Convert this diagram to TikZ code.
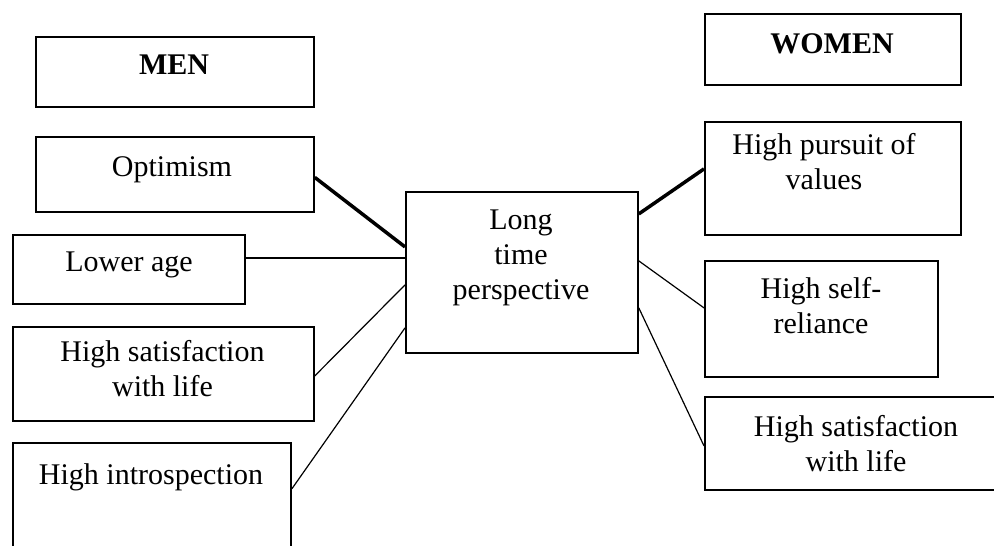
\documentclass[tikz,border=0pt]{standalone}
\usepackage{fontspec}
\setmainfont{Liberation Serif}

\begin{document}
\begin{tikzpicture}[x=1pt,y=-1pt,
  box/.style={draw,line width=1.8pt,inner sep=0pt,anchor=north west},
  txt/.style={anchor=north,inner sep=0pt,align=center,font=\fontsize{30}{35}\selectfont},
  link/.style={line width=1.2pt},
  strong/.style={line width=3.5pt}]

\useasboundingbox (0,0) rectangle (994,546);
\clip (0,0) rectangle (994,546);

\node[box,minimum width=278pt,minimum height=70pt] (men) at (35,36) {};
\node[box,minimum width=278pt,minimum height=75pt] (opt) at (35,136) {};
\node[box,minimum width=232pt,minimum height=69pt] (low) at (12,234) {};
\node[box,minimum width=301pt,minimum height=94pt] (hsm) at (12,326) {};
\node[box,minimum width=278pt,minimum height=130pt] (hin) at (12,442) {};

\node[box,minimum width=232pt,minimum height=161pt] (ltp) at (405,191) {};

\node[box,minimum width=256pt,minimum height=71pt] (women) at (704,13) {};
\node[box,minimum width=256pt,minimum height=113pt] (pur) at (704,121) {};
\node[box,minimum width=233pt,minimum height=116pt] (self) at (704,260) {};
\node[box,minimum width=304pt,minimum height=93pt] (hsw) at (704,396) {};

\node[txt] (mentxt) at (174,55) {\textbf{MEN}};
\node[txt] (opttxt) at (172,156) {Optimism};
\node[txt] (lowtxt) at (129,252) {Lower age};
\node[txt] (hsmtxt) at (162.5,340) {High satisfaction\\with life};
\node[txt] (hintxt) at (151,463) {High introspection};
\node[txt] (ltptxt) at (521,210) {Long\\time\\perspective};
\node[txt] (womentxt) at (832,33) {\textbf{WOMEN}};
\node[txt] (purtxt) at (824,133) {High pursuit of\\values};
\node[txt] (selftxt) at (821,277) {High self-\\reliance};
\node[txt] (hswtxt) at (856,415) {High satisfaction\\with life};

\draw[strong] ([yshift=-3pt]opt.east) -- ([yshift=25.5pt]ltp.west);
\draw[link] ([yshift=11.5pt]low.east) -- ([yshift=14.5pt]ltp.west);
\draw[link] ([yshift=-2pt]hsm.east) -- ([yshift=-12.5pt]ltp.west);
\draw[link] ([yshift=19pt]hin.east) -- ([yshift=-55.5pt]ltp.west);

\draw[strong] ([yshift=58.5pt]ltp.east) -- ([yshift=9.5pt]pur.west);
\draw[link] ([yshift=11.5pt]ltp.east) -- ([yshift=11pt]self.west);
\draw[link] ([yshift=-35.5pt]ltp.east) -- ([yshift=-2.5pt]hsw.west);

\end{tikzpicture}
\end{document}
